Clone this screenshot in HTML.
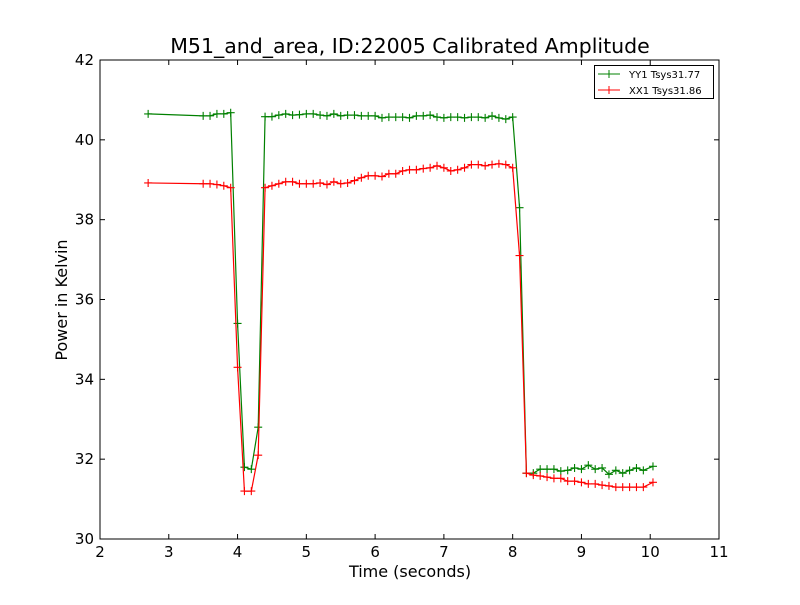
<!DOCTYPE html>
<html><head><meta charset="utf-8"><style>
body{margin:0;background:#fff;}
svg text{font-family:"DejaVu Sans","Liberation Sans",sans-serif;}
</style></head><body>
<svg id="chart" width="800" height="600">
<rect x="0" y="0" width="800" height="600" fill="#fff"/>
<text x="410" y="53" font-size="20.5" text-anchor="middle">M51_and_area, ID:22005 Calibrated Amplitude</text>
<g id="ticks"></g>
<g id="series"></g>
<rect x="100" y="60" width="619" height="479" fill="none" stroke="#000" stroke-width="1"/>
<text x="410" y="577" font-size="16" text-anchor="middle">Time (seconds)</text>
<text x="67" y="300" font-size="16" text-anchor="middle" transform="rotate(-90 67 300)">Power in Kelvin</text>
<g>
<rect x="594.5" y="65.5" width="119" height="33" fill="#fff" stroke="#000"/>
<line x1="598" y1="74" x2="620" y2="74" stroke="green"/>
<line x1="609" y1="70" x2="609" y2="78" stroke="green"/>
<line x1="598" y1="90" x2="620" y2="90" stroke="red"/>
<line x1="609" y1="86" x2="609" y2="94" stroke="red"/>
<text x="629" y="78" font-size="10">YY1 Tsys31.77</text>
<text x="629" y="94" font-size="10">XX1 Tsys31.86</text>
</g>
</svg>
<script>
const xTicks=[2,3,4,5,6,7,8,9,10,11];
const yTicks=[30,32,34,36,38,40,42];
const times=[2.7,3.5,3.6,3.7,3.8,3.9,4.0,4.1,4.2,4.3,4.4,4.5,4.6,4.7,4.8,4.9,5.0,5.1,5.2,5.3,5.4,5.5,5.6,5.7,5.8,5.9,6.0,6.1,6.2,6.3,6.4,6.5,6.6,6.7,6.8,6.9,7.0,7.1,7.2,7.3,7.4,7.5,7.6,7.7,7.8,7.9,8.0,8.1,8.2,8.3,8.4,8.5,8.6,8.7,8.8,8.9,9.0,9.1,9.2,9.3,9.4,9.5,9.6,9.7,9.8,9.9,10.04];
const yy1=[40.65,40.6,40.6,40.65,40.65,40.68,35.4,31.8,31.75,32.8,40.58,40.58,40.62,40.65,40.62,40.63,40.65,40.65,40.62,40.6,40.65,40.6,40.62,40.62,40.6,40.6,40.6,40.55,40.57,40.57,40.57,40.55,40.6,40.6,40.62,40.57,40.55,40.57,40.57,40.55,40.57,40.57,40.55,40.6,40.55,40.52,40.57,38.3,31.65,31.65,31.75,31.75,31.75,31.7,31.72,31.78,31.75,31.85,31.75,31.78,31.62,31.72,31.65,31.72,31.78,31.72,31.82];
const xx1=[38.92,38.9,38.9,38.88,38.85,38.8,34.3,31.2,31.2,32.1,38.8,38.85,38.9,38.95,38.95,38.9,38.9,38.9,38.92,38.88,38.95,38.9,38.92,38.98,39.05,39.1,39.1,39.08,39.15,39.15,39.22,39.25,39.25,39.28,39.3,39.35,39.3,39.22,39.25,39.3,39.38,39.38,39.35,39.38,39.4,39.38,39.3,37.1,31.65,31.6,31.58,31.55,31.52,31.52,31.45,31.45,31.42,31.38,31.38,31.35,31.33,31.3,31.3,31.3,31.3,31.3,31.42];
const NS='http://www.w3.org/2000/svg';
const xS=v=>100+(v-2)*619/9;
const yS=v=>539-(v-30)*479/12;
function mk(tag,attrs,parent){const e=document.createElementNS(NS,tag);for(const k in attrs)e.setAttribute(k,attrs[k]);parent.appendChild(e);return e;}
const tg=document.getElementById('ticks');
xTicks.forEach(t=>{const x=xS(t);
 mk('line',{x1:x,y1:539,x2:x,y2:534,stroke:'#000'},tg);
 mk('line',{x1:x,y1:60,x2:x,y2:65,stroke:'#000'},tg);
 const tx=mk('text',{x:x,y:557,'font-size':15,'text-anchor':'middle'},tg);tx.textContent=t;
 
 });
yTicks.forEach(t=>{const y=yS(t);
 mk('line',{x1:100,y1:y,x2:105,y2:y,stroke:'#000'},tg);
 mk('line',{x1:719,y1:y,x2:714,y2:y,stroke:'#000'},tg);
 const tx=mk('text',{x:94,y:y+5,'font-size':15,'text-anchor':'end'},tg);tx.textContent=t;
 
 });
const sg=document.getElementById('series');
function draw(vals,color,name){
 const pts=times.map((t,i)=>xS(t)+','+yS(vals[i])).join(' ');
 const pl=mk('polyline',{points:pts,fill:'none',stroke:color,'stroke-width':1.2},sg);
 
 
 times.forEach((t,i)=>{const x=xS(t),y=yS(vals[i]);
  const p=mk('path',{d:`M${x-4},${y}H${x+4}M${x},${y-4}V${y+4}`,stroke:color,fill:'none','stroke-width':1.1},sg);
  
  });
}
draw(yy1,'green','yy1');
draw(xx1,'red','xx1');
</script>
</body></html>
